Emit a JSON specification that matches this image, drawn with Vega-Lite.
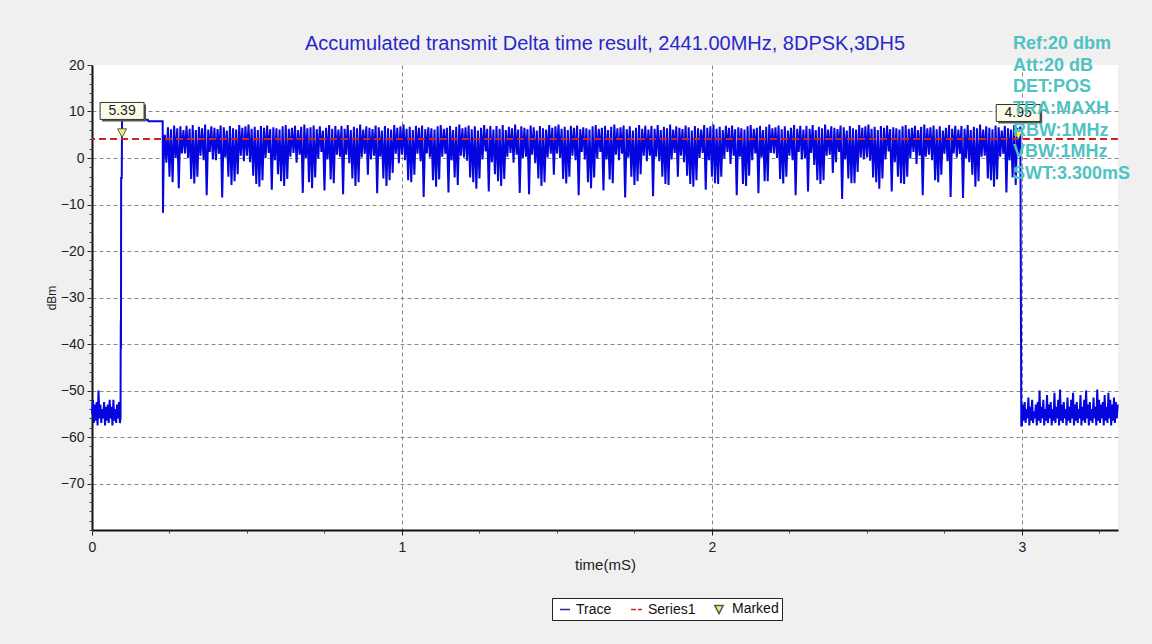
{
"$schema":"https://vega.github.io/schema/vega-lite/v6.json",
"autosize":"none",
"width":1026,"height":465,
"padding":{"left":92,"top":65,"right":34,"bottom":114},
"background":"#f0f0f0",
"view":{"fill":"white","stroke":null},
"config":{"font":"Liberation Sans"},
"title":{"text":"Accumulated transmit Delta time result, 2441.00MHz, 8DPSK,3DH5","color":"#2828c8","fontSize":20,"fontWeight":"normal","font":"Liberation Sans","anchor":"middle","baseline":"alphabetic","offset":14,"dy":49},
"resolve":{"axis":{"x":"independent","y":"independent"}},
"datasets":{
"trace":[
{"t":0,"v":-55},{"t":0.003,"v":-52},{"t":0.006,"v":-57},{"t":0.009,"v":-53},{"t":0.012,"v":-56.5},{"t":0.015,"v":-52.5},{"t":0.018,"v":-57.5},{"t":0.021,"v":-50},{"t":0.024,"v":-56},{"t":0.027,"v":-53},{"t":0.03,"v":-57},{"t":0.033,"v":-54},{"t":0.036,"v":-56},{"t":0.039,"v":-52.5},{"t":0.042,"v":-57.5},{"t":0.045,"v":-53.5},{"t":0.048,"v":-56.5},{"t":0.051,"v":-53},{"t":0.054,"v":-57},{"t":0.057,"v":-52},{"t":0.06,"v":-56},{"t":0.063,"v":-53.5},{"t":0.066,"v":-57.5},{"t":0.069,"v":-52},{"t":0.072,"v":-56.5},{"t":0.075,"v":-54},{"t":0.078,"v":-57},{"t":0.081,"v":-53},{"t":0.084,"v":-56},{"t":0.087,"v":-52.5},{"t":0.09,"v":-57},
{"t":0.092,"v":-56},{"t":0.0925,"v":-42},{"t":0.093,"v":-35},{"t":0.0935,"v":-41},{"t":0.094,"v":-4.3},{"t":0.096,"v":-4.3},{"t":0.097,"v":8.2},{"t":0.18,"v":8.2},{"t":0.182,"v":7.9},{"t":0.228,"v":7.9},{"t":0.229,"v":-11.8},{"t":0.231,"v":-1.5},{"t":0.233,"v":2.5},
{"t":0.235,"v":5.0},{"t":0.24,"v":-1.0},{"t":0.245,"v":6.6},{"t":0.25,"v":-4.0},{"t":0.255,"v":6.2},{"t":0.26,"v":-5.2},{"t":0.265,"v":7.0},{"t":0.27,"v":0.0},{"t":0.275,"v":6.4},{"t":0.28,"v":-6.5},{"t":0.285,"v":6.8},{"t":0.29,"v":1.0},{"t":0.295,"v":6.0},
{"t":0.3,"v":1.0},{"t":0.305,"v":6.9},{"t":0.31,"v":0.0},{"t":0.315,"v":6.3},{"t":0.32,"v":-4.5},{"t":0.325,"v":7.1},{"t":0.33,"v":-5.5},{"t":0.335,"v":6.0},{"t":0.34,"v":-4.0},{"t":0.345,"v":6.7},{"t":0.35,"v":0.5},{"t":0.355,"v":6.4},{"t":0.36,"v":-0.5},{"t":0.365,"v":7.2},{"t":0.37,"v":-8.0},{"t":0.375,"v":6.1},{"t":0.38,"v":1.3},{"t":0.385,"v":6.8},{"t":0.39,"v":-0.3},{"t":0.395,"v":6.5},
{"t":0.4,"v":-0.5},{"t":0.405,"v":6.2},{"t":0.41,"v":0.9},{"t":0.415,"v":7.0},{"t":0.42,"v":-8.5},{"t":0.425,"v":6.6},{"t":0.43,"v":0.1},{"t":0.435,"v":5.9},{"t":0.44,"v":-4.0},{"t":0.445,"v":6.9},{"t":0.45,"v":-5.8},{"t":0.455,"v":6.4},{"t":0.46,"v":-5.0},{"t":0.465,"v":6.1},{"t":0.47,"v":-3.5},{"t":0.475,"v":7.1},{"t":0.48,"v":0.5},{"t":0.485,"v":6.5},{"t":0.49,"v":-0.7},{"t":0.495,"v":6.8},
{"t":0.5,"v":0.5},{"t":0.505,"v":7.2},{"t":0.51,"v":-0.9},{"t":0.515,"v":6.3},{"t":0.52,"v":-3.8},{"t":0.525,"v":6.7},{"t":0.53,"v":-5.6},{"t":0.535,"v":6.0},{"t":0.54,"v":-6.2},{"t":0.545,"v":6.9},{"t":0.55,"v":-4.8},{"t":0.555,"v":6.5},{"t":0.56,"v":0.0},{"t":0.565,"v":7.0},{"t":0.57,"v":1.1},{"t":0.575,"v":6.2},{"t":0.58,"v":-6.8},{"t":0.585,"v":6.6},{"t":0.59,"v":-0.5},{"t":0.595,"v":6.4},
{"t":0.6,"v":-3.5},{"t":0.605,"v":6.1},{"t":0.61,"v":-5.0},{"t":0.615,"v":6.8},{"t":0.62,"v":-6.0},{"t":0.625,"v":7.1},{"t":0.63,"v":-4.5},{"t":0.635,"v":6.3},{"t":0.64,"v":0.3},{"t":0.645,"v":6.5},{"t":0.65,"v":1.1},{"t":0.655,"v":6.9},{"t":0.66,"v":-1.0},{"t":0.665,"v":6.0},{"t":0.67,"v":0.7},{"t":0.675,"v":6.7},{"t":0.68,"v":-7.5},{"t":0.685,"v":7.2},{"t":0.69,"v":0.0},{"t":0.695,"v":6.4},
{"t":0.7,"v":-5.2},{"t":0.705,"v":6.6},{"t":0.71,"v":-6.5},{"t":0.715,"v":7.0},{"t":0.72,"v":-4.2},{"t":0.725,"v":6.2},{"t":0.73,"v":-0.1},{"t":0.735,"v":6.8},{"t":0.74,"v":1.3},{"t":0.745,"v":5.9},{"t":0.75,"v":-7.0},{"t":0.755,"v":6.5},{"t":0.76,"v":-0.3},{"t":0.765,"v":7.1},{"t":0.77,"v":-4.6},{"t":0.775,"v":6.3},{"t":0.78,"v":-5.4},{"t":0.785,"v":6.9},{"t":0.79,"v":0.7},{"t":0.795,"v":6.1},
{"t":0.8,"v":0.3},{"t":0.805,"v":6.9},{"t":0.81,"v":-7.8},{"t":0.815,"v":6.3},{"t":0.82,"v":0.7},{"t":0.825,"v":7.1},{"t":0.83,"v":-1.1},{"t":0.835,"v":6.0},{"t":0.84,"v":-4.4},{"t":0.845,"v":6.7},{"t":0.85,"v":-6.0},{"t":0.855,"v":6.4},{"t":0.86,"v":-5.2},{"t":0.865,"v":7.2},{"t":0.87,"v":0.1},{"t":0.875,"v":6.1},{"t":0.88,"v":0.9},{"t":0.885,"v":6.8},{"t":0.89,"v":-3.6},{"t":0.895,"v":6.5},
{"t":0.9,"v":-0.3},{"t":0.905,"v":6.2},{"t":0.91,"v":0.5},{"t":0.915,"v":7.0},{"t":0.92,"v":-7.6},{"t":0.925,"v":6.6},{"t":0.93,"v":0.3},{"t":0.935,"v":5.9},{"t":0.94,"v":-4.4},{"t":0.945,"v":6.9},{"t":0.95,"v":-6.0},{"t":0.955,"v":6.4},{"t":0.96,"v":-4.8},{"t":0.965,"v":6.1},{"t":0.97,"v":-3.2},{"t":0.975,"v":7.1},{"t":0.98,"v":0.9},{"t":0.985,"v":6.5},{"t":0.99,"v":-1.1},{"t":0.995,"v":6.8},
{"t":1,"v":0.7},{"t":1.005,"v":7.2},{"t":1.01,"v":-0.5},{"t":1.015,"v":6.3},{"t":1.02,"v":-4.8},{"t":1.025,"v":6.7},{"t":1.03,"v":-5.2},{"t":1.035,"v":6.0},{"t":1.04,"v":-3.6},{"t":1.045,"v":6.9},{"t":1.05,"v":0.9},{"t":1.055,"v":6.5},{"t":1.06,"v":-0.7},{"t":1.065,"v":7.0},{"t":1.07,"v":-8.4},{"t":1.075,"v":6.2},{"t":1.08,"v":1.0},{"t":1.085,"v":6.6},{"t":1.09,"v":0.1},{"t":1.095,"v":6.4},
{"t":1.1,"v":-4.8},{"t":1.105,"v":6.1},{"t":1.11,"v":-6.2},{"t":1.115,"v":6.8},{"t":1.12,"v":-4.6},{"t":1.125,"v":7.1},{"t":1.13,"v":0.3},{"t":1.135,"v":6.3},{"t":1.14,"v":0.9},{"t":1.145,"v":6.5},{"t":1.15,"v":-7.4},{"t":1.155,"v":6.9},{"t":1.16,"v":-0.5},{"t":1.165,"v":6.0},{"t":1.17,"v":-4.2},{"t":1.175,"v":6.7},{"t":1.18,"v":-5.8},{"t":1.185,"v":7.2},{"t":1.19,"v":0.5},{"t":1.195,"v":6.4},
{"t":1.2,"v":0.1},{"t":1.205,"v":6.6},{"t":1.21,"v":-0.6},{"t":1.215,"v":7.0},{"t":1.22,"v":-4.2},{"t":1.225,"v":6.2},{"t":1.23,"v":-5.2},{"t":1.235,"v":6.8},{"t":1.24,"v":-6.6},{"t":1.245,"v":5.9},{"t":1.25,"v":-4.4},{"t":1.255,"v":6.5},{"t":1.26,"v":-0.3},{"t":1.265,"v":7.1},{"t":1.27,"v":1.4},{"t":1.275,"v":6.3},{"t":1.28,"v":-7.2},{"t":1.285,"v":6.9},{"t":1.29,"v":-0.9},{"t":1.295,"v":6.1},
{"t":1.3,"v":-3.5},{"t":1.305,"v":6.9},{"t":1.31,"v":-5.0},{"t":1.315,"v":6.3},{"t":1.32,"v":-6.0},{"t":1.325,"v":7.1},{"t":1.33,"v":-4.5},{"t":1.335,"v":6.0},{"t":1.34,"v":0.3},{"t":1.345,"v":6.7},{"t":1.35,"v":1.1},{"t":1.355,"v":6.4},{"t":1.36,"v":-1.0},{"t":1.365,"v":7.2},{"t":1.37,"v":0.7},{"t":1.375,"v":6.1},{"t":1.38,"v":-7.5},{"t":1.385,"v":6.8},{"t":1.39,"v":0.0},{"t":1.395,"v":6.5},
{"t":1.4,"v":0.3},{"t":1.405,"v":6.2},{"t":1.41,"v":-7.8},{"t":1.415,"v":7.0},{"t":1.42,"v":0.7},{"t":1.425,"v":6.6},{"t":1.43,"v":-1.1},{"t":1.435,"v":5.9},{"t":1.44,"v":-4.4},{"t":1.445,"v":6.9},{"t":1.45,"v":-6.0},{"t":1.455,"v":6.4},{"t":1.46,"v":-5.2},{"t":1.465,"v":6.1},{"t":1.47,"v":0.1},{"t":1.475,"v":7.1},{"t":1.48,"v":0.9},{"t":1.485,"v":6.5},{"t":1.49,"v":-3.6},{"t":1.495,"v":6.8},
{"t":1.5,"v":1.0},{"t":1.505,"v":7.2},{"t":1.51,"v":0.0},{"t":1.515,"v":6.3},{"t":1.52,"v":-4.5},{"t":1.525,"v":6.7},{"t":1.53,"v":-5.5},{"t":1.535,"v":6.0},{"t":1.54,"v":-4.0},{"t":1.545,"v":6.9},{"t":1.55,"v":0.5},{"t":1.555,"v":6.5},{"t":1.56,"v":-0.5},{"t":1.565,"v":7.0},{"t":1.57,"v":-8.0},{"t":1.575,"v":6.2},{"t":1.58,"v":1.3},{"t":1.585,"v":6.6},{"t":1.59,"v":-0.3},{"t":1.595,"v":6.4},
{"t":1.6,"v":-5.2},{"t":1.605,"v":6.1},{"t":1.61,"v":-6.5},{"t":1.615,"v":6.8},{"t":1.62,"v":-4.2},{"t":1.625,"v":7.1},{"t":1.63,"v":-0.1},{"t":1.635,"v":6.3},{"t":1.64,"v":1.3},{"t":1.645,"v":6.5},{"t":1.65,"v":-7.0},{"t":1.655,"v":6.9},{"t":1.66,"v":-0.3},{"t":1.665,"v":6.0},{"t":1.67,"v":-4.6},{"t":1.675,"v":6.7},{"t":1.68,"v":-5.4},{"t":1.685,"v":7.2},{"t":1.69,"v":0.7},{"t":1.695,"v":6.4},
{"t":1.7,"v":-0.5},{"t":1.705,"v":6.6},{"t":1.71,"v":0.9},{"t":1.715,"v":7.0},{"t":1.72,"v":-8.5},{"t":1.725,"v":6.2},{"t":1.73,"v":0.1},{"t":1.735,"v":6.8},{"t":1.74,"v":-4.0},{"t":1.745,"v":5.9},{"t":1.75,"v":-5.8},{"t":1.755,"v":6.5},{"t":1.76,"v":-5.0},{"t":1.765,"v":7.1},{"t":1.77,"v":-3.5},{"t":1.775,"v":6.3},{"t":1.78,"v":0.5},{"t":1.785,"v":6.9},{"t":1.79,"v":-0.7},{"t":1.795,"v":6.1},
{"t":1.8,"v":0.5},{"t":1.805,"v":6.9},{"t":1.81,"v":-8.2},{"t":1.815,"v":6.3},{"t":1.82,"v":0.3},{"t":1.825,"v":7.1},{"t":1.83,"v":-0.7},{"t":1.835,"v":6.0},{"t":1.84,"v":-4.0},{"t":1.845,"v":6.7},{"t":1.85,"v":-5.6},{"t":1.855,"v":6.4},{"t":1.86,"v":-5.8},{"t":1.865,"v":7.2},{"t":1.87,"v":-0.3},{"t":1.875,"v":6.1},{"t":1.88,"v":1.1},{"t":1.885,"v":6.8},{"t":1.89,"v":-4.0},{"t":1.895,"v":6.5},
{"t":1.9,"v":0.5},{"t":1.905,"v":6.2},{"t":1.91,"v":-0.9},{"t":1.915,"v":7.0},{"t":1.92,"v":-3.8},{"t":1.925,"v":6.6},{"t":1.93,"v":-5.6},{"t":1.935,"v":5.9},{"t":1.94,"v":-6.2},{"t":1.945,"v":6.9},{"t":1.95,"v":-4.8},{"t":1.955,"v":6.4},{"t":1.96,"v":0.0},{"t":1.965,"v":6.1},{"t":1.97,"v":1.1},{"t":1.975,"v":7.1},{"t":1.98,"v":-6.8},{"t":1.985,"v":6.5},{"t":1.99,"v":-0.5},{"t":1.995,"v":6.8},
{"t":2,"v":-4.0},{"t":2.005,"v":7.2},{"t":2.01,"v":-5.4},{"t":2.015,"v":6.3},{"t":2.02,"v":-5.6},{"t":2.025,"v":6.7},{"t":2.03,"v":-4.0},{"t":2.035,"v":6.0},{"t":2.04,"v":-0.1},{"t":2.045,"v":6.9},{"t":2.05,"v":1.3},{"t":2.055,"v":6.5},{"t":2.06,"v":-1.3},{"t":2.065,"v":7.0},{"t":2.07,"v":0.5},{"t":2.075,"v":6.2},{"t":2.08,"v":-8.0},{"t":2.085,"v":6.6},{"t":2.09,"v":0.3},{"t":2.095,"v":6.4},
{"t":2.1,"v":-5.6},{"t":2.105,"v":6.1},{"t":2.11,"v":-6.0},{"t":2.115,"v":6.8},{"t":2.12,"v":-3.8},{"t":2.125,"v":7.1},{"t":2.13,"v":-0.5},{"t":2.135,"v":6.3},{"t":2.14,"v":1.0},{"t":2.145,"v":6.5},{"t":2.15,"v":-7.6},{"t":2.155,"v":6.9},{"t":2.16,"v":0.1},{"t":2.165,"v":6.0},{"t":2.17,"v":-5.0},{"t":2.175,"v":6.7},{"t":2.18,"v":-5.0},{"t":2.185,"v":7.2},{"t":2.19,"v":1.1},{"t":2.195,"v":6.4},
{"t":2.2,"v":1.0},{"t":2.205,"v":6.6},{"t":2.21,"v":0.0},{"t":2.215,"v":7.0},{"t":2.22,"v":-4.5},{"t":2.225,"v":6.2},{"t":2.23,"v":-5.5},{"t":2.235,"v":6.8},{"t":2.24,"v":-4.0},{"t":2.245,"v":5.9},{"t":2.25,"v":0.5},{"t":2.255,"v":6.5},{"t":2.26,"v":-0.5},{"t":2.265,"v":7.1},{"t":2.27,"v":-8.0},{"t":2.275,"v":6.3},{"t":2.28,"v":1.3},{"t":2.285,"v":6.9},{"t":2.29,"v":-0.3},{"t":2.295,"v":6.1},
{"t":2.3,"v":-0.1},{"t":2.305,"v":6.9},{"t":2.31,"v":-7.2},{"t":2.315,"v":6.3},{"t":2.32,"v":1.1},{"t":2.325,"v":7.1},{"t":2.33,"v":-1.5},{"t":2.335,"v":6.0},{"t":2.34,"v":-4.8},{"t":2.345,"v":6.7},{"t":2.35,"v":-5.6},{"t":2.355,"v":6.4},{"t":2.36,"v":-4.8},{"t":2.365,"v":7.2},{"t":2.37,"v":0.5},{"t":2.375,"v":6.1},{"t":2.38,"v":0.7},{"t":2.385,"v":6.8},{"t":2.39,"v":-3.2},{"t":2.395,"v":6.5},
{"t":2.4,"v":-0.9},{"t":2.405,"v":6.2},{"t":2.41,"v":1.3},{"t":2.415,"v":7.0},{"t":2.42,"v":-8.8},{"t":2.425,"v":6.6},{"t":2.43,"v":-0.3},{"t":2.435,"v":5.9},{"t":2.44,"v":-4.4},{"t":2.445,"v":6.9},{"t":2.45,"v":-5.4},{"t":2.455,"v":6.4},{"t":2.46,"v":-5.4},{"t":2.465,"v":6.1},{"t":2.47,"v":-3.0},{"t":2.475,"v":7.1},{"t":2.48,"v":0.1},{"t":2.485,"v":6.5},{"t":2.49,"v":-0.3},{"t":2.495,"v":6.8},
{"t":2.5,"v":0.1},{"t":2.505,"v":7.2},{"t":2.51,"v":-0.6},{"t":2.515,"v":6.3},{"t":2.52,"v":-4.2},{"t":2.525,"v":6.7},{"t":2.53,"v":-5.2},{"t":2.535,"v":6.0},{"t":2.54,"v":-6.6},{"t":2.545,"v":6.9},{"t":2.55,"v":-4.4},{"t":2.555,"v":6.5},{"t":2.56,"v":-0.3},{"t":2.565,"v":7.0},{"t":2.57,"v":1.4},{"t":2.575,"v":6.2},{"t":2.58,"v":-7.2},{"t":2.585,"v":6.6},{"t":2.59,"v":-0.9},{"t":2.595,"v":6.4},
{"t":2.6,"v":-4.0},{"t":2.605,"v":6.1},{"t":2.61,"v":-5.4},{"t":2.615,"v":6.8},{"t":2.62,"v":-5.6},{"t":2.625,"v":7.1},{"t":2.63,"v":-4.0},{"t":2.635,"v":6.3},{"t":2.64,"v":-0.1},{"t":2.645,"v":6.5},{"t":2.65,"v":1.3},{"t":2.655,"v":6.9},{"t":2.66,"v":-1.3},{"t":2.665,"v":6.0},{"t":2.67,"v":0.5},{"t":2.675,"v":6.7},{"t":2.68,"v":-8.0},{"t":2.685,"v":7.2},{"t":2.69,"v":0.3},{"t":2.695,"v":6.4},
{"t":2.7,"v":0.7},{"t":2.705,"v":6.6},{"t":2.71,"v":-0.5},{"t":2.715,"v":7.0},{"t":2.72,"v":-4.8},{"t":2.725,"v":6.2},{"t":2.73,"v":-5.2},{"t":2.735,"v":6.8},{"t":2.74,"v":-3.6},{"t":2.745,"v":5.9},{"t":2.75,"v":0.9},{"t":2.755,"v":6.5},{"t":2.76,"v":-0.7},{"t":2.765,"v":7.1},{"t":2.77,"v":-8.4},{"t":2.775,"v":6.3},{"t":2.78,"v":1.0},{"t":2.785,"v":6.9},{"t":2.79,"v":0.1},{"t":2.795,"v":6.1},
{"t":2.8,"v":0.9},{"t":2.805,"v":6.9},{"t":2.81,"v":-8.6},{"t":2.815,"v":6.3},{"t":2.82,"v":-0.1},{"t":2.825,"v":7.1},{"t":2.83,"v":-0.9},{"t":2.835,"v":6.0},{"t":2.84,"v":-3.6},{"t":2.845,"v":6.7},{"t":2.85,"v":-6.2},{"t":2.855,"v":6.4},{"t":2.86,"v":-5.0},{"t":2.865,"v":7.2},{"t":2.87,"v":0.3},{"t":2.875,"v":6.1},{"t":2.88,"v":0.5},{"t":2.885,"v":6.8},{"t":2.89,"v":-4.4},{"t":2.895,"v":6.5},
{"t":2.9,"v":-4.8},{"t":2.905,"v":6.2},{"t":2.91,"v":-6.2},{"t":2.915,"v":7.0},{"t":2.92,"v":-4.6},{"t":2.925,"v":6.6},{"t":2.93,"v":0.3},{"t":2.935,"v":5.9},{"t":2.94,"v":0.9},{"t":2.945,"v":6.9},{"t":2.95,"v":-7.4},{"t":2.955,"v":6.4},{"t":2.96,"v":-0.5},{"t":2.965,"v":6.1},{"t":2.97,"v":-4.2},{"t":2.975,"v":7.1},{"t":2.98,"v":-5.8},{"t":2.985,"v":6.5},{"t":2.99,"v":0.5},{"t":2.995,"v":6.8},
{"t":2.997,"v":-36},{"t":2.998,"v":-57.5},
{"t":3,"v":-57.5},{"t":3.003,"v":-53},{"t":3.006,"v":-56.5},{"t":3.009,"v":-52.5},{"t":3.012,"v":-57},{"t":3.015,"v":-54},{"t":3.018,"v":-56},{"t":3.021,"v":-51.5},{"t":3.024,"v":-57.5},{"t":3.027,"v":-53.5},{"t":3.03,"v":-56.5},{"t":3.033,"v":-52},{"t":3.036,"v":-57},{"t":3.039,"v":-54.5},{"t":3.042,"v":-56},{"t":3.045,"v":-53},{"t":3.048,"v":-57.5},{"t":3.051,"v":-52.5},{"t":3.054,"v":-56.5},{"t":3.057,"v":-50},{"t":3.06,"v":-57},{"t":3.063,"v":-53.5},{"t":3.066,"v":-56},{"t":3.069,"v":-52},{"t":3.072,"v":-57.5},{"t":3.075,"v":-54},{"t":3.078,"v":-56.5},{"t":3.081,"v":-51},{"t":3.084,"v":-57},{"t":3.087,"v":-53},{"t":3.09,"v":-56},{"t":3.093,"v":-52.5},{"t":3.096,"v":-57.5},{"t":3.099,"v":-54},{"t":3.102,"v":-56.5},{"t":3.105,"v":-50.5},{"t":3.108,"v":-57},{"t":3.111,"v":-53.5},{"t":3.114,"v":-56},{"t":3.117,"v":-52},{"t":3.12,"v":-57.5},{"t":3.123,"v":-49.8},{"t":3.126,"v":-56.5},{"t":3.129,"v":-53},{"t":3.132,"v":-57},{"t":3.135,"v":-52.5},{"t":3.138,"v":-56},{"t":3.141,"v":-54},{"t":3.144,"v":-57.5},{"t":3.147,"v":-51.5},{"t":3.15,"v":-56.5},{"t":3.153,"v":-53.5},{"t":3.156,"v":-57},{"t":3.159,"v":-52},{"t":3.162,"v":-56},{"t":3.165,"v":-50.5},{"t":3.168,"v":-57.5},{"t":3.171,"v":-53},{"t":3.174,"v":-56.5},{"t":3.177,"v":-52.5},{"t":3.18,"v":-57},{"t":3.183,"v":-54},{"t":3.186,"v":-56},{"t":3.189,"v":-51},{"t":3.192,"v":-57.5},{"t":3.195,"v":-53.5},{"t":3.198,"v":-56.5},{"t":3.201,"v":-52},{"t":3.204,"v":-57},{"t":3.207,"v":-50},{"t":3.21,"v":-56},{"t":3.213,"v":-53},{"t":3.216,"v":-57.5},{"t":3.219,"v":-52.5},{"t":3.222,"v":-56.5},{"t":3.225,"v":-54},{"t":3.228,"v":-57},{"t":3.231,"v":-51.5},{"t":3.234,"v":-56},{"t":3.237,"v":-53.5},{"t":3.24,"v":-57.5},{"t":3.243,"v":-49.8},{"t":3.246,"v":-56.5},{"t":3.249,"v":-52},{"t":3.252,"v":-57},{"t":3.255,"v":-53},{"t":3.258,"v":-56},{"t":3.261,"v":-52.5},{"t":3.264,"v":-57.5},{"t":3.267,"v":-51},{"t":3.27,"v":-56.5},{"t":3.273,"v":-53.5},{"t":3.276,"v":-57},{"t":3.279,"v":-50.5},{"t":3.282,"v":-56},{"t":3.285,"v":-52},{"t":3.288,"v":-57.5},{"t":3.291,"v":-53},{"t":3.294,"v":-56.5},{"t":3.297,"v":-51.5},{"t":3.3,"v":-57},{"t":3.303,"v":-52.5},{"t":3.306,"v":-56},{"t":3.309,"v":-53}
],
"level":[{"v":4.1}],
"marks":[{"t":0.097,"v":5.39,"s":"Marked"},{"t":2.988,"v":4.95,"s":"Marked"}],
"info":[{"t":2.971,"v":23.4,"label":"Ref:20 dbm\nAtt:20 dB\nDET:POS\nTRA:MAXH\nRBW:1MHz\nVBW:1MHz\nSWT:3.300mS"}]
},
"layer":[
{"data":{"name":"trace"},
 "mark":{"type":"line","color":"#0505e0","strokeWidth":2},
 "encoding":{
  "x":{"field":"t","type":"quantitative","scale":{"domain":[0,3.31],"nice":false,"zero":false},
   "axis":{"orient":"bottom","values":[0,1,2,3],"format":"d","labelFlush":false,"title":"time(mS)","titleFontSize":15,"titleFontWeight":"normal","titleColor":"#222","titlePadding":3,"labelFontSize":14,"labelColor":"#222","labelPadding":5,"tickSize":5,"tickColor":"#222","domainColor":"#111","domainWidth":2,"grid":true,"gridColor":"#8a8a8a","gridDash":[4,3],"gridOpacity":{"condition":{"test":"datum.value == 0","value":0},"value":1}}},
  "y":{"field":"v","type":"quantitative","scale":{"domain":[-80,20],"nice":false,"zero":false},
   "axis":{"orient":"left","values":[-70,-60,-50,-40,-30,-20,-10,0,10,20],"labelFlush":false,"title":"dBm","titleFontSize":12,"titleFontWeight":"normal","titleColor":"#222","titlePadding":2,"labelFontSize":14,"labelColor":"#222","labelPadding":3,"tickSize":5,"tickColor":"#222","domainColor":"#111","domainWidth":2,"grid":true,"gridColor":"#8a8a8a","gridDash":[4,3],"gridOpacity":{"condition":{"test":"datum.value == 20","value":0},"value":1}}}
 }},
{"data":{"name":"level"},
 "mark":{"type":"rule","color":"#d02222","strokeWidth":2,"strokeDash":[7,4]},
 "encoding":{"y":{"field":"v","type":"quantitative","scale":{"domain":[-80,20],"nice":false,"zero":false},
   "axis":{"orient":"left","values":[-80,-78,-76,-74,-72,-70,-68,-66,-64,-62,-60,-58,-56,-54,-52,-50,-48,-46,-44,-42,-40,-38,-36,-34,-32,-30,-28,-26,-24,-22,-20,-18,-16,-14,-12,-10,-8,-6,-4,-2,0,2,4,6,8,10,12,14,16,18,20],"labels":false,"domain":false,"grid":false,"tickSize":3,"tickColor":"#444","title":null}}}},
{"data":{"name":"marks"},
 "mark":{"type":"point","shape":"M-1,-0.386L1,-0.386L1,0.386L-1,0.386Z","size":1936,"filled":true,"color":"#555555","opacity":1,"xOffset":2,"yOffset":-20},
 "encoding":{"x":{"field":"t","type":"quantitative","scale":{"domain":[0,3.31],"nice":false,"zero":false},
   "axis":{"orient":"bottom","values":[0.25,0.5,0.75,1.25,1.5,1.75,2.25,2.5,2.75,3.25],"labels":false,"domain":false,"grid":false,"tickSize":3,"tickColor":"#444","title":null}},
  "y":{"field":"v","type":"quantitative","scale":{"domain":[-80,20],"nice":false,"zero":false},"axis":null}}},
{"data":{"name":"marks"},
 "mark":{"type":"point","shape":"M-1,-0.386L1,-0.386L1,0.386L-1,0.386Z","size":1936,"filled":true,"fill":"#fbfbe8","stroke":"#333333","strokeWidth":1,"opacity":1,"yOffset":-22},
 "encoding":{"x":{"field":"t","type":"quantitative","scale":{"domain":[0,3.31],"nice":false,"zero":false},"axis":null},
  "y":{"field":"v","type":"quantitative","scale":{"domain":[-80,20],"nice":false,"zero":false},"axis":null}}},
{"data":{"name":"marks"},
 "mark":{"type":"text","fontSize":14,"color":"#222","baseline":"middle","align":"center","yOffset":-22},
 "encoding":{"x":{"field":"t","type":"quantitative","scale":{"domain":[0,3.31],"nice":false,"zero":false},"axis":null},
  "y":{"field":"v","type":"quantitative","scale":{"domain":[-80,20],"nice":false,"zero":false},"axis":null},
  "text":{"field":"v","type":"quantitative","format":".2f"}}},
{"data":{"name":"marks"},
 "mark":{"type":"point","size":225,"filled":true,"strokeWidth":1,"opacity":1},
 "encoding":{"x":{"field":"t","type":"quantitative","scale":{"domain":[0,3.31],"nice":false,"zero":false},"axis":null},
  "y":{"field":"v","type":"quantitative","scale":{"domain":[-80,20],"nice":false,"zero":false},"axis":null},
  "fill":{"field":"s","type":"nominal","scale":{"domain":["Trace","Series1","Marked"],"range":["#2a2a8a","#cc2222","#f2f25a"]},
   "legend":{"orient":"none","legendX":460,"legendY":533,"direction":"horizontal","title":null,"fillColor":"white","strokeColor":"#222","padding":3,"labelFontSize":14,"labelColor":"#111","labelFont":"Liberation Sans","symbolSize":196,"symbolStrokeWidth":1.5,"columnPadding":15,"labelOffset":5}},
  "stroke":{"field":"s","type":"nominal","scale":{"domain":["Trace","Series1","Marked"],"range":["#2a2a8a","#cc2222","#555555"]}},
  "shape":{"field":"s","type":"nominal","scale":{"domain":["Trace","Series1","Marked"],"range":["M-0.43,0H1","M-0.57,0H0.14M0.43,0H1","M-0.6,-0.55L0.6,-0.55L0,0.6Z"]}}}},
{"data":{"name":"info"},
 "mark":{"type":"text","fontSize":18,"fontWeight":"bold","color":"#4fc2c2","align":"left","baseline":"alphabetic","lineBreak":"\n","lineHeight":21.6},
 "encoding":{"x":{"field":"t","type":"quantitative","scale":{"domain":[0,3.31],"nice":false,"zero":false},"axis":null},
  "y":{"field":"v","type":"quantitative","scale":{"domain":[-80,20],"nice":false,"zero":false},"axis":null},
  "text":{"field":"label"}}}
]
}
